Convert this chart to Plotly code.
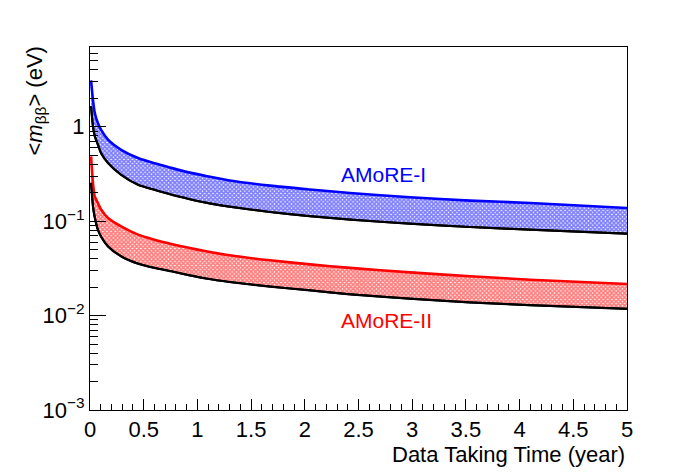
import math
import plotly.graph_objects as go

# Data taking time (year)
t = [0.01, 0.028, 0.044, 0.074, 0.105, 0.168, 0.29, 0.447, 0.60, 0.757, 0.92, 1.08,
     1.30, 1.676, 2.048, 2.42, 2.98, 3.54, 4.10, 5.0]

# AMoRE-I band (eV)
amore1_upper = [3.1, 1.9, 1.41, 1.09, 0.92, 0.73, 0.57, 0.466, 0.41, 0.367, 0.329, 0.301,
                0.270, 0.238, 0.217, 0.199, 0.179, 0.165, 0.156, 0.138]
amore1_lower = [1.65, 1.0, 0.80, 0.645, 0.52, 0.413, 0.31, 0.243, 0.215, 0.191, 0.172, 0.157,
                0.1425, 0.125, 0.113, 0.104, 0.094, 0.0868, 0.0813, 0.0738]

# AMoRE-II band (eV)
amore2_upper = [0.485, 0.25, 0.183, 0.155, 0.132, 0.108, 0.088, 0.072, 0.0637, 0.0574, 0.0522, 0.048,
                0.0435, 0.0385, 0.0349, 0.032, 0.0287, 0.0261, 0.024, 0.0216]
amore2_lower = [0.255, 0.143, 0.11, 0.081, 0.068, 0.054, 0.0425, 0.0355, 0.032, 0.0295, 0.0268, 0.0247,
                0.0227, 0.0203, 0.0185, 0.0168, 0.0151, 0.0138, 0.0129, 0.0118]

x_ticks = [0, 0.5, 1, 1.5, 2, 2.5, 3, 3.5, 4, 4.5, 5]
x_tick_text = ["0", "0.5", "1", "1.5", "2", "2.5", "3", "3.5", "4", "4.5", "5"]
y_ticks = [0.001, 0.01, 0.1, 1]
y_tick_text = ["10<sup>\u22123</sup>", "10<sup>\u22122</sup>", "10<sup>\u22121</sup>", "1"]

# label anchors (data units)
label_amore1 = (2.32, 0.311)
label_amore2 = (2.32, 0.00885)

FONT = "Liberation Sans, Arial, sans-serif"

fig = go.Figure()

bands = [
    (amore1_lower, amore1_upper, "#0000ff"),
    (amore2_lower, amore2_upper, "#ff0000"),
]
for lower, upper, col in bands:
    fig.add_trace(go.Scatter(x=t, y=lower, mode="lines",
                             line=dict(color="black", width=2.2, shape="spline", smoothing=0.6),
                             showlegend=False, hoverinfo="skip"))
    fig.add_trace(go.Scatter(x=t, y=upper, mode="lines", fill="tonexty",
                             fillcolor="rgba(0,0,0,0)",
                             fillpattern=dict(shape="x", size=3, solidity=0.8,
                                              fgcolor=col, bgcolor="white"),
                             line=dict(color=col, width=2.6, shape="spline", smoothing=0.6),
                             showlegend=False, hoverinfo="skip"))
    fig.add_trace(go.Scatter(x=t, y=lower, mode="lines",
                             line=dict(color="black", width=2, shape="spline", smoothing=0.6),
                             showlegend=False, hoverinfo="skip"))

fig.add_annotation(x=label_amore1[0], y=math.log10(label_amore1[1]), xref="x", yref="y",
                   yanchor="middle", xanchor="left",
                   text="AMoRE-I", showarrow=False,
                   font=dict(family=FONT, size=21, color="#0000ff"))
fig.add_annotation(x=label_amore2[0], y=math.log10(label_amore2[1]), xref="x", yref="y",
                   yanchor="middle", xanchor="left",
                   text="AMoRE-II", showarrow=False,
                   font=dict(family=FONT, size=21, color="#ff0000"))

fig.add_annotation(x=1, y=0, xref="paper", yref="paper", xanchor="right", yanchor="top",
                   yshift=-30, text="Data Taking Time (year)", showarrow=False,
                   font=dict(family=FONT, size=22, color="black"))
fig.add_annotation(x=0, y=1, xref="paper", yref="paper", xanchor="center", yanchor="top",
                   xshift=-55, yshift=2, textangle=-90,
                   text="&lt;<i>m</i><sub>\u03b2\u03b2</sub>&gt; (eV)", showarrow=False,
                   font=dict(family=FONT, size=22, color="black"))

fig.update_xaxes(range=[0, 5], tickvals=x_ticks, ticktext=x_tick_text, automargin=False,
                 ticks="inside", ticklen=11, tickwidth=1, tickcolor="black",
                 minor=dict(ticks="inside", ticklen=6, dtick=0.1, tickcolor="black", showgrid=False),
                 showline=True, linecolor="black", linewidth=1, mirror=True,
                 showgrid=False, zeroline=False,
                 tickfont=dict(family=FONT, size=22, color="black"))
fig.update_yaxes(type="log", range=[-3, 0.845], tickvals=y_ticks, ticktext=y_tick_text,
                 automargin=False,
                 ticks="inside", ticklen=16, tickwidth=1, tickcolor="black",
                 minor=dict(ticks="inside", ticklen=8, dtick="D1", tickcolor="black", showgrid=False),
                 showline=True, linecolor="black", linewidth=1, mirror=True,
                 showgrid=False, zeroline=False,
                 tickfont=dict(family=FONT, size=22, color="black"))

# page body adds an 8px offset; margins compensate so the frame lands at 90..627 x 47..410
fig.update_layout(width=696, height=472,
                  margin=dict(l=82, r=77, t=39, b=70),
                  paper_bgcolor="white", plot_bgcolor="white",
                  showlegend=False)

fig.write_html("out.html")
